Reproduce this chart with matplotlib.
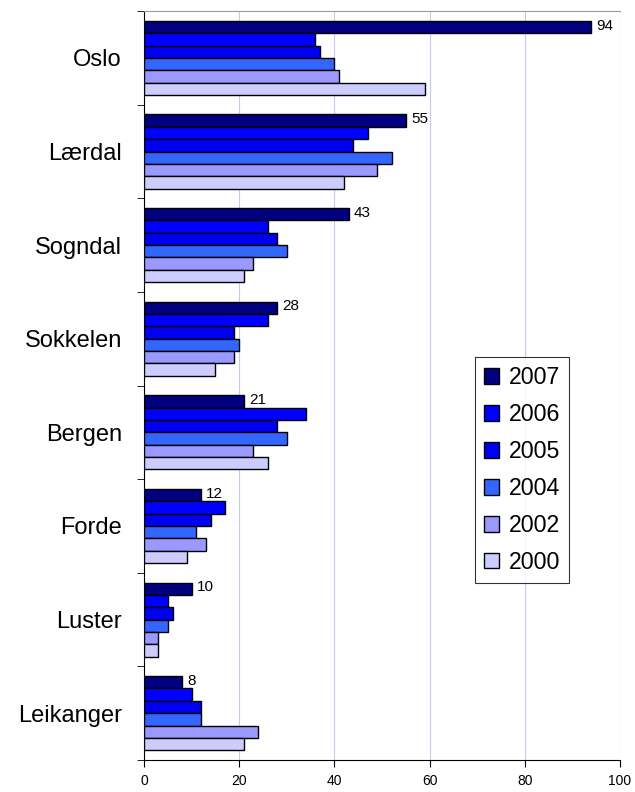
import matplotlib
matplotlib.use('Agg')
import matplotlib.pyplot as plt
import numpy as np

plt.rcParams['font.family'] = ['Liberation Sans', 'DejaVu Sans']

# categories top to bottom
places = ["Oslo", "Lærdal", "Sogndal", "Sokkelen", "Bergen", "Forde", "Luster", "Leikanger"]
years = ["2007", "2006", "2005", "2004", "2002", "2000"]
v2007 = [94, 55, 43, 28, 21, 12, 10, 8]
v2006 = [36, 47, 26, 26, 34, 17, 5, 10]
v2005 = [37, 44, 28, 19, 28, 14, 6, 12]
v2004 = [40, 52, 30, 20, 30, 11, 5, 12]
v2002 = [41, 49, 23, 19, 23, 13, 3, 24]
v2000 = [59, 42, 21, 15, 26, 9, 3, 21]
series = [v2007, v2006, v2005, v2004, v2002, v2000]
colors = ["#000080", "#0000FF", "#0000F0", "#3366FF", "#9999FF", "#CCCCFF"]

fig = plt.figure(figsize=(6.35, 7.92), dpi=100)
ax = fig.add_axes([0.2268, 0.0404, 0.7496, 0.9456])

n = len(places)
ypos = np.arange(n)[::-1]  # Oslo at top
bh = 0.132
for k, (vals, col, yr) in enumerate(zip(series, colors, years)):
    offs = (2.5 - k) * bh
    ax.barh(ypos + offs, vals, height=bh, color=col, edgecolor='black',
            linewidth=1.0, label=yr, zorder=3)
    if k == 0:
        for y, v in zip(ypos, vals):
            ax.text(v + 1.1, y + offs + 0.015, str(v), fontsize=11,
                    va='center', ha='left')

ax.set_xlim(0, 100)
ax.set_ylim(-0.5, n - 0.5)
ax.set_xticks([0, 20, 40, 60, 80, 100])
ax.tick_params(axis='x', labelsize=10, direction='out', length=5, pad=5)
ax.set_yticks(ypos)
ax.set_yticklabels(places, fontsize=17)
ax.set_yticks(np.arange(n + 1) - 0.5, minor=True)
ax.tick_params(axis='y', which='major', length=0, pad=16)
ax.tick_params(axis='y', which='minor', length=5, direction='out')
ax.grid(axis='x', color='#c8c8f5', linewidth=0.8, zorder=0)

ax.spines['right'].set_visible(False)
ax.spines['top'].set_color('#999999')
ax.spines['left'].set_color('black')
ax.spines['bottom'].set_color('black')

leg = ax.legend(loc='upper left', bbox_to_anchor=(475 / 635, 1 - 357 / 792),
                bbox_transform=fig.transFigure, fontsize=16.7, frameon=True,
                fancybox=False, edgecolor='black', handlelength=0.65,
                handleheight=0.65, handletextpad=0.4, labelspacing=0.6,
                borderpad=0.4, borderaxespad=0)
leg.get_frame().set_linewidth(0.8)

fig.savefig('out.png', dpi=100)
